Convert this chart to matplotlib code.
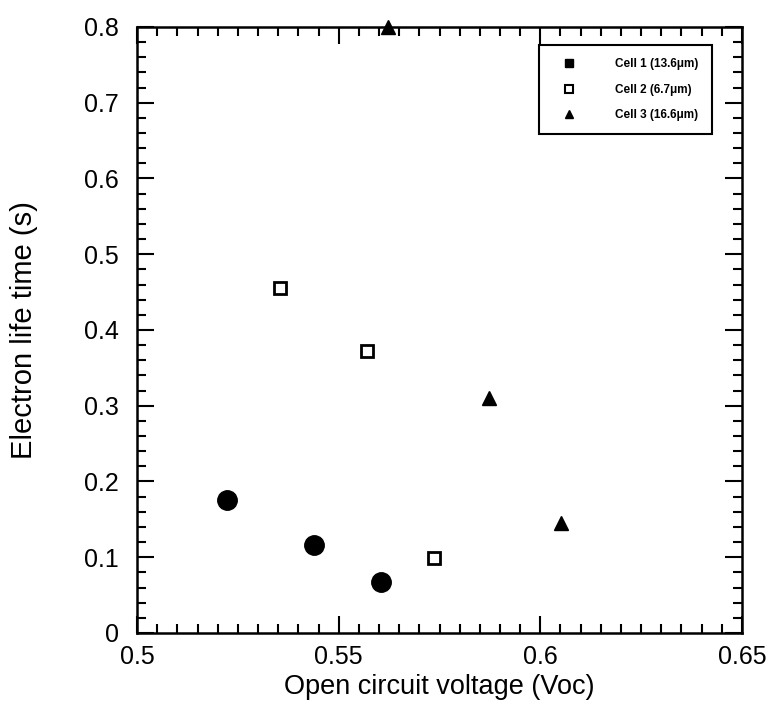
import numpy as np
import matplotlib.pyplot as plt
from matplotlib.ticker import MultipleLocator
from matplotlib.lines import Line2D

plt.rcParams['font.family'] = ['Liberation Sans', 'DejaVu Sans']

# cell 1 (filled circles)
voc1 = [0.5222, 0.5440, 0.5606]
tau1 = [0.176, 0.116, 0.067]
# cell 2 (open squares)
voc2 = [0.5355, 0.5570, 0.5736]
tau2 = [0.456, 0.372, 0.099]
# cell 3 (filled triangles)
voc3 = [0.5623, 0.5872, 0.6052]
tau3 = [0.800, 0.310, 0.145]

labels = ['Cell 1 (13.6\u03bcm)', 'Cell 2 (6.7\u03bcm)', 'Cell 3 (16.6\u03bcm)']
xticks = [0.5, 0.55, 0.6, 0.65]
yticks = [0, 0.1, 0.2, 0.3, 0.4, 0.5, 0.6, 0.7, 0.8]

fig = plt.figure(figsize=(7.75, 7.27), dpi=100)
ax = fig.add_axes([0.1768, 0.1293, 0.7806, 0.8336])

ax.plot(voc1, tau1, 'o', color='black', ms=14, clip_on=False)
ax.plot(voc2, tau2, 's', mfc='white', mec='black', mew=2, ms=8.5, clip_on=False)
ax.plot(voc3, tau3, '^', color='black', ms=10, clip_on=False)

ax.set_xlim(0.5, 0.65)
ax.set_ylim(0, 0.8)
ax.set_xticks(xticks)
ax.set_xticklabels([f'{v:g}' for v in xticks])
ax.set_yticks(yticks)
ax.set_yticklabels([f'{v:g}' for v in yticks])
ax.xaxis.set_minor_locator(MultipleLocator(0.005))
ax.yaxis.set_minor_locator(MultipleLocator(0.02))

ax.tick_params(which='both', direction='in', top=True, right=True, width=1.5, labelsize=18)
ax.tick_params(axis='x', pad=9)
ax.tick_params(axis='y', pad=13)
ax.tick_params(which='major', length=12)
ax.tick_params(which='minor', length=6.5)
for s in ax.spines.values():
    s.set_linewidth(1.8)

ax.set_xlabel('Open circuit voltage (Voc)', fontsize=19.5, labelpad=3)
ax.set_ylabel('Electron life time (s)', fontsize=21, labelpad=33)

# legend shows square markers for cell 1 like the original
handles = [Line2D([], [], ls='', marker='s', color='black', ms=6),
           Line2D([], [], ls='', marker='s', mfc='white', mec='black', mew=1.5, ms=6),
           Line2D([], [], ls='', marker='^', color='black', ms=6)]
leg = ax.legend(handles, labels, loc='upper right', bbox_to_anchor=(0.95, 0.97),
                prop={'size': 8.5, 'weight': 'bold'},
                fancybox=False, edgecolor='black', framealpha=1, borderpad=1.1,
                labelspacing=1.15, handletextpad=2.4, handlelength=3.0, borderaxespad=0)
leg.get_frame().set_linewidth(1.5)

fig.savefig('out.png', dpi=100)
